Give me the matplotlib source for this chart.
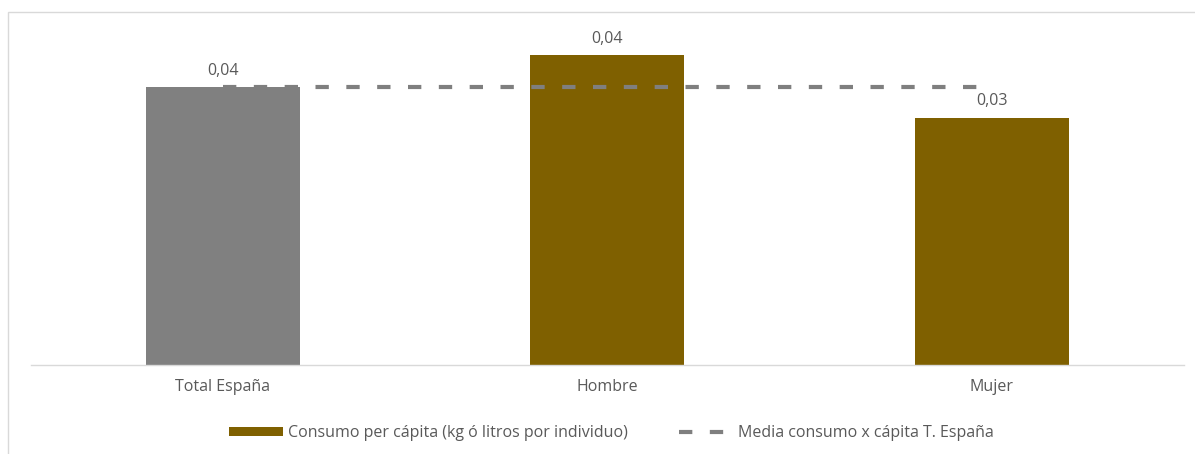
import matplotlib
matplotlib.use("Agg")
import matplotlib.pyplot as plt
from matplotlib.patches import Rectangle, Patch
from matplotlib.lines import Line2D

# data
categorias = ["Total España", "Hombre", "Mujer"]
consumo = [0.0387, 0.0431, 0.0344]
etiquetas = ["0,04", "0,04", "0,03"]
media_espana = 0.0387
colores = ["#808080", "#7F6000", "#7F6000"]

plt.rcParams['font.family'] = ['Open Sans', 'DejaVu Sans']
fs = 12

W, H = 1195, 454
fig = plt.figure(figsize=(W / 100, H / 100), dpi=100)
ax = fig.add_axes([30.5 / W, (H - 365) / H, (1184 - 30.5) / W, (365 - 20) / H])

x = list(range(len(categorias)))
ax.bar(x, consumo, width=0.4, color=colores, zorder=2)
for xi, v, t in zip(x, consumo, etiquetas):
    ax.annotate(t, (xi, v), xytext=(0, 6), textcoords="offset points",
                ha="center", va="bottom", fontsize=fs - 0.5, color="#595959")

ax.plot([x[0], x[-1]], [media_espana, media_espana], color="#7F7F7F",
        lw=3.0, dashes=(3.2, 4.2), zorder=3)

ax.set_xlim(-0.5, len(categorias) - 0.5)
ax.set_ylim(0, 0.048)
ax.set_yticks([])
ax.set_xticks(x)
ax.set_xticklabels(categorias, fontsize=fs - 0.5, color="#595959")
ax.tick_params(axis="x", length=0, pad=10)
for s in ["top", "left", "right"]:
    ax.spines[s].set_visible(False)
ax.spines["bottom"].set_color("#D9D9D9")
ax.spines["bottom"].set_linewidth(1.0)

handles = [
    Patch(facecolor="#7F6000", edgecolor="none",
          label="Consumo per cápita (kg ó litros por individuo)"),
    Line2D([], [], color="#7F7F7F", lw=3.0, dashes=(3.2, 4.2),
           label="Media consumo x cápita T. España"),
]
leg = fig.legend(handles=handles, loc="center", bbox_to_anchor=(611 / W, (H - 433) / H),
                 ncol=2, frameon=False, fontsize=fs - 0.5, handlelength=3.4,
                 handleheight=0.45, columnspacing=3.2, handletextpad=0.3)
for t in leg.get_texts():
    t.set_color("#595959")

# light chart-area border
fig.patches.append(Rectangle((8 / W, -0.05), 1.1, (H - 12) / H + 0.05,
                             transform=fig.transFigure, fill=False,
                             edgecolor="#D9D9D9", lw=1.0))

fig.savefig("out.png", dpi=100, facecolor="white")
